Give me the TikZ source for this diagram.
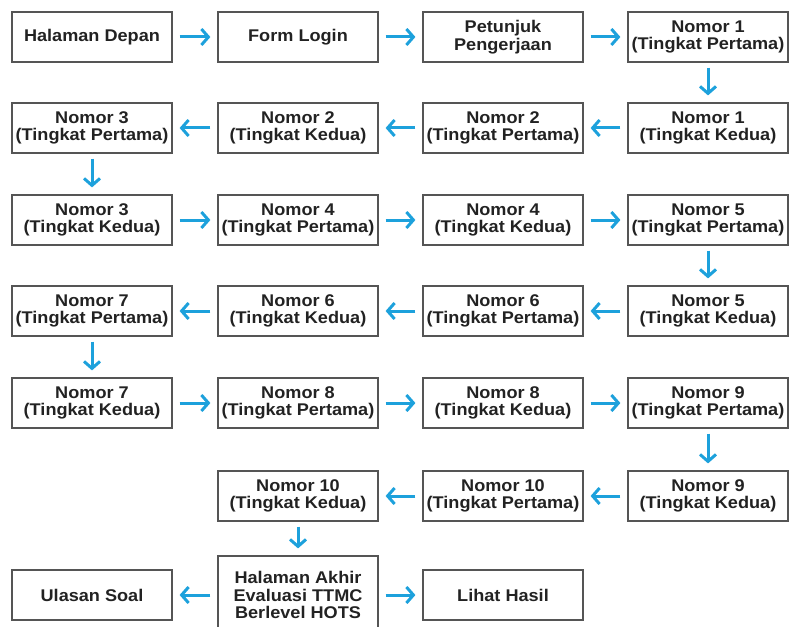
\documentclass[tikz,border=0pt]{standalone}
\usepackage{fontspec}
\setmainfont[FakeStretch = 1.07]{Liberation Sans}
\usetikzlibrary{arrows.meta}
\definecolor{alur}{HTML}{1DA1DC}
\definecolor{garis}{HTML}{555555}
\definecolor{tulisan}{HTML}{222222}

\begin{document}
\begin{tikzpicture}[x = 1bp, y = -1bp,
  kotak/.style = {draw = garis, line width = 1.2bp, minimum width = 160bp, minimum height = 50bp, inner sep = 0pt, align = center, text = tulisan, font = \bfseries\fontsize{17}{17.5}\selectfont},
  panah/.style = {draw = alur, line width = 3bp, -{Straight Barb[length = 7bp, width = 16bp]}, shorten < = 7bp, shorten > = 7bp},
  turun/.style = {panah, shorten < = 5bp, shorten > = 7bp}]
\useasboundingbox (0, 0) rectangle (789, 627);

\node[kotak] (hd) at (92, 37) {Halaman Depan};
\node[kotak] (fl) at (298, 37) {Form Login};
\node[kotak] (pp) at (503, 37) {Petunjuk\\Pengerjaan};
\node[kotak] (n1a) at (708, 37) {Nomor 1\\(Tingkat Pertama)};

\node[kotak] (n1b) at (708, 128) {Nomor 1\\(Tingkat Kedua)};
\node[kotak] (n2a) at (503, 128) {Nomor 2\\(Tingkat Pertama)};
\node[kotak] (n2b) at (298, 128) {Nomor 2\\(Tingkat Kedua)};
\node[kotak] (n3a) at (92, 128) {Nomor 3\\(Tingkat Pertama)};

\node[kotak] (n3b) at (92, 220) {Nomor 3\\(Tingkat Kedua)};
\node[kotak] (n4a) at (298, 220) {Nomor 4\\(Tingkat Pertama)};
\node[kotak] (n4b) at (503, 220) {Nomor 4\\(Tingkat Kedua)};
\node[kotak] (n5a) at (708, 220) {Nomor 5\\(Tingkat Pertama)};

\node[kotak] (n5b) at (708, 311) {Nomor 5\\(Tingkat Kedua)};
\node[kotak] (n6a) at (503, 311) {Nomor 6\\(Tingkat Pertama)};
\node[kotak] (n6b) at (298, 311) {Nomor 6\\(Tingkat Kedua)};
\node[kotak] (n7a) at (92, 311) {Nomor 7\\(Tingkat Pertama)};

\node[kotak] (n7b) at (92, 403) {Nomor 7\\(Tingkat Kedua)};
\node[kotak] (n8a) at (298, 403) {Nomor 8\\(Tingkat Pertama)};
\node[kotak] (n8b) at (503, 403) {Nomor 8\\(Tingkat Kedua)};
\node[kotak] (n9a) at (708, 403) {Nomor 9\\(Tingkat Pertama)};

\node[kotak] (n9b) at (708, 496) {Nomor 9\\(Tingkat Kedua)};
\node[kotak] (n10a) at (503, 496) {Nomor 10\\(Tingkat Pertama)};
\node[kotak] (n10b) at (298, 496) {Nomor 10\\(Tingkat Kedua)};

\node[kotak, minimum height = 78bp] (akhir) at (298, 595) {Halaman Akhir\\Evaluasi TTMC\\Berlevel HOTS};
\node[kotak] (ulasan) at (92, 595) {Ulasan Soal};
\node[kotak] (hasil) at (503, 595) {Lihat Hasil};

% alur mendatar
\foreach \a/\b in {hd/fl, fl/pp, pp/n1a, n1b/n2a, n2a/n2b, n2b/n3a, n3b/n4a, n4a/n4b, n4b/n5a,
  n5b/n6a, n6a/n6b, n6b/n7a, n7b/n8a, n8a/n8b, n8b/n9a, n9b/n10a, n10a/n10b}
  \draw[panah] (\a) -- (\b);
\draw[panah] (akhir.west) -- (ulasan.east);
\draw[panah] (akhir.east |- hasil.west) -- (hasil.west);

% alur menurun
\foreach \a/\b in {n1a/n1b, n3a/n3b, n5a/n5b, n7a/n7b, n9a/n9b, n10b/akhir}
  \draw[turun] (\a.south) -- (\b.north);

\end{tikzpicture}
\end{document}
